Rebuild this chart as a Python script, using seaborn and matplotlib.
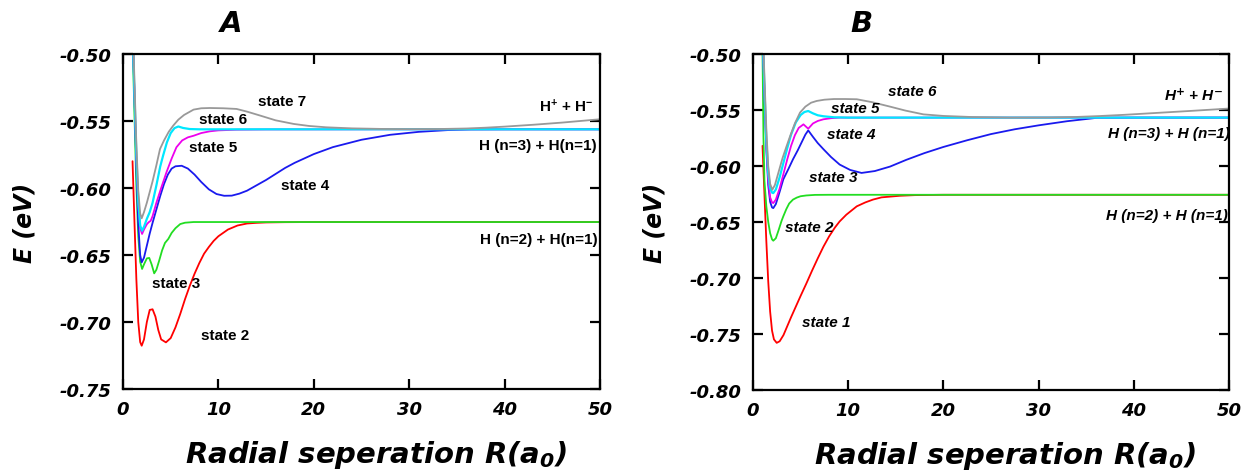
import matplotlib
matplotlib.use("Agg")
import matplotlib.pyplot as plt
import pandas as pd
import seaborn as sns

# ---------------- data ----------------
XTICKS = [0, 10, 20, 30, 40, 50]
YTICKS_A = [-0.75, -0.70, -0.65, -0.60, -0.55, -0.50]
YTICKS_B = [-0.80, -0.75, -0.70, -0.65, -0.60, -0.55, -0.50]

# Panel A
A_red_R = [1.0, 1.2, 1.4, 1.6, 1.8, 1.96, 2.2, 2.5, 2.8, 3.1, 3.4, 3.7, 4.0, 4.5, 5.0, 5.5, 6.0, 6.5, 7.0, 7.5, 8.0, 8.5, 9.0, 9.5, 10, 11, 12, 13, 14, 15, 17, 20, 25, 30, 40, 50]
A_red_E = [-0.580, -0.625, -0.668, -0.700, -0.715, -0.7177, -0.713, -0.700, -0.691, -0.6905, -0.696, -0.706, -0.713, -0.7152, -0.712, -0.704, -0.694, -0.683, -0.673, -0.664, -0.656, -0.649, -0.644, -0.6395, -0.636, -0.631, -0.628, -0.6265, -0.626, -0.6257, -0.6255, -0.6254, -0.6254, -0.6254, -0.6254, -0.6254]

A_green_R = [1.0, 1.2, 1.4, 1.6, 1.8, 2.0, 2.2, 2.5, 2.75, 3.0, 3.27, 3.5, 3.8, 4.1, 4.4, 4.75, 5.1, 5.5, 6.0, 6.5, 7.4, 9, 15, 30, 50]
A_green_E = [-0.49, -0.545, -0.598, -0.636, -0.655, -0.6604, -0.657, -0.6525, -0.6522, -0.657, -0.6637, -0.661, -0.654, -0.6465, -0.641, -0.638, -0.6335, -0.630, -0.6269, -0.6259, -0.6254, -0.6254, -0.6254, -0.6254, -0.6254]

A_blue_R = [1.0, 1.2, 1.4, 1.6, 1.8, 1.96, 2.2, 2.5, 2.8, 3.1, 3.5, 3.9, 4.3, 4.7, 5.1, 5.5, 6.15, 6.8, 7.5, 8.2, 9.0, 9.8, 10.6, 11.4, 12.2, 13.0, 14, 15, 16, 17, 18, 20, 22, 25, 28, 31, 34, 36.5, 40, 45, 50]
A_blue_E = [-0.48, -0.53, -0.585, -0.627, -0.650, -0.6555, -0.652, -0.643, -0.634, -0.626, -0.616, -0.606, -0.597, -0.590, -0.5855, -0.5838, -0.5834, -0.5855, -0.590, -0.5955, -0.601, -0.6045, -0.6058, -0.6057, -0.6042, -0.602, -0.598, -0.594, -0.5895, -0.585, -0.5812, -0.5747, -0.5695, -0.5640, -0.5603, -0.5581, -0.5568, -0.5563, -0.5562, -0.5562, -0.5562]

A_mag_R = [1.0, 1.2, 1.4, 1.6, 1.8, 2.0, 2.2, 2.5, 2.7, 2.9, 3.1, 3.5, 4.0, 4.57, 5.1, 5.6, 6.2, 6.8, 7.4, 8.2, 9.1, 10, 11.9, 15, 30, 50]
A_mag_E = [-0.48, -0.53, -0.578, -0.612, -0.630, -0.6343, -0.631, -0.627, -0.6255, -0.6245, -0.621, -0.611, -0.600, -0.588, -0.578, -0.5696, -0.5645, -0.5622, -0.561, -0.559, -0.5577, -0.557, -0.5565, -0.5563, -0.5562, -0.5562]

A_cyan_R = [1.0, 1.2, 1.4, 1.6, 1.8, 2.0, 2.2, 2.5, 2.8, 3.1, 3.5, 3.9, 4.2, 4.6, 5.0, 5.4, 5.8, 6.3, 7.0, 8, 10, 20, 50]
A_cyan_E = [-0.48, -0.53, -0.575, -0.610, -0.628, -0.6319, -0.629, -0.623, -0.618, -0.611, -0.598, -0.584, -0.5759, -0.566, -0.559, -0.5553, -0.5541, -0.5552, -0.5560, -0.5562, -0.5562, -0.5562, -0.5562]

A_gray_R = [1.0, 1.2, 1.4, 1.6, 1.8, 1.96, 2.2, 2.5, 2.8, 3.1, 3.5, 3.88, 4.3, 4.8, 5.26, 5.8, 6.4, 7.4, 8.2, 9.1, 10.5, 11.9, 13, 14.4, 16, 17.9, 19.5, 21.3, 24, 27, 30, 33, 36, 38, 40, 43, 46, 50]
A_gray_E = [-0.47, -0.52, -0.567, -0.602, -0.619, -0.6226, -0.618, -0.611, -0.603, -0.595, -0.583, -0.5709, -0.5645, -0.558, -0.5535, -0.549, -0.5455, -0.5415, -0.5405, -0.5403, -0.5405, -0.541, -0.5430, -0.546, -0.5495, -0.5522, -0.5537, -0.5547, -0.5555, -0.5559, -0.5561, -0.5560, -0.5556, -0.5550, -0.5542, -0.5528, -0.5512, -0.5487]

# Panel B
B_red_R = [1.0, 1.2, 1.4, 1.6, 1.8, 2.0, 2.2, 2.49, 2.8, 3.2, 3.6, 4.0, 4.5, 5.0, 5.6, 6.2, 6.8, 7.4, 8.0, 8.6, 9.1, 9.8, 10.9, 11.8, 12.6, 13.5, 15.4, 17, 20, 30, 50]
B_red_E = [-0.582, -0.625, -0.667, -0.703, -0.730, -0.747, -0.7548, -0.7579, -0.7565, -0.751, -0.743, -0.735, -0.7255, -0.716, -0.705, -0.6935, -0.6825, -0.672, -0.6628, -0.655, -0.6495, -0.6435, -0.636, -0.6325, -0.630, -0.628, -0.6266, -0.626, -0.6257, -0.6257, -0.6257]

B_green_R = [1.0, 1.1, 1.2, 1.4, 1.6, 1.8, 2.0, 2.13, 2.4, 2.7, 3.0, 3.18, 3.5, 3.8, 4.2, 4.6, 5.0, 5.6, 6.5, 8, 15, 50]
B_green_E = [-0.50, -0.575, -0.613, -0.636, -0.650, -0.660, -0.6655, -0.6667, -0.6645, -0.657, -0.649, -0.645, -0.6385, -0.6335, -0.630, -0.6282, -0.627, -0.6263, -0.6258, -0.6257, -0.6257, -0.6257]

B_blue_R = [1.0, 1.2, 1.4, 1.6, 1.8, 2.0, 2.13, 2.4, 2.8, 3.18, 3.7, 4.2, 4.7, 5.1, 5.5, 5.8, 6.3, 6.8, 7.4, 8.2, 9.1, 10.2, 11.4, 12.8, 14.4, 16.1, 18, 20, 22.5, 25, 27.5, 30, 33, 36.1, 40, 45, 50]
B_blue_E = [-0.48, -0.535, -0.585, -0.617, -0.632, -0.637, -0.6376, -0.634, -0.623, -0.612, -0.603, -0.594, -0.586, -0.579, -0.572, -0.5682, -0.574, -0.5795, -0.585, -0.592, -0.5987, -0.6035, -0.6062, -0.6045, -0.6005, -0.5945, -0.5885, -0.5830, -0.5770, -0.5715, -0.5672, -0.5637, -0.5600, -0.5570, -0.5568, -0.5568, -0.5568]

B_mag_R = [1.0, 1.2, 1.4, 1.6, 1.8, 2.0, 2.13, 2.4, 2.8, 3.2, 3.6, 4.0, 4.4, 4.8, 5.3, 5.8, 6.3, 6.8, 7.4, 8.2, 9.1, 12, 50]
B_mag_E = [-0.48, -0.533, -0.582, -0.612, -0.628, -0.6325, -0.6331, -0.630, -0.620, -0.607, -0.594, -0.582, -0.5725, -0.566, -0.5628, -0.5667, -0.5620, -0.5598, -0.5583, -0.5573, -0.5568, -0.5568, -0.5568]

B_cyan_R = [1.0, 1.2, 1.4, 1.6, 1.8, 2.0, 2.13, 2.4, 2.8, 3.2, 3.6, 4.0, 4.5, 5.0, 5.4, 5.8, 6.3, 6.8, 7.4, 8.5, 10, 50]
B_cyan_E = [-0.48, -0.53, -0.577, -0.606, -0.620, -0.6238, -0.6242, -0.621, -0.610, -0.597, -0.584, -0.572, -0.561, -0.5545, -0.5518, -0.5509, -0.5530, -0.5547, -0.5556, -0.5565, -0.5568, -0.5568]

B_gray_R = [1.0, 1.2, 1.4, 1.6, 1.8, 2.03, 2.3, 2.7, 3.1, 3.5, 3.9, 4.4, 4.94, 5.5, 6.1, 6.7, 7.5, 8.5, 9.7, 10.9, 12.5, 14.4, 16, 17.9, 20, 23.1, 27, 31, 34, 36.4, 39, 42, 46, 50]
B_gray_E = [-0.47, -0.52, -0.567, -0.600, -0.616, -0.6212, -0.617, -0.605, -0.593, -0.583, -0.5733, -0.562, -0.5523, -0.5470, -0.5435, -0.5419, -0.5408, -0.5402, -0.5402, -0.5404, -0.5430, -0.5470, -0.5505, -0.5539, -0.5553, -0.5563, -0.5568, -0.5567, -0.5562, -0.5554, -0.5543, -0.5528, -0.5508, -0.5487]

COLORS = ["#ff0000", "#22dd22", "#1a1aee", "#ee00ee", "#00e8ff", "#999999"]
WIDTHS = [1.3, 1.3, 1.3, 1.3, 1.6, 1.3]

CURVES_A = [(A_red_R, A_red_E), (A_green_R, A_green_E), (A_blue_R, A_blue_E),
            (A_mag_R, A_mag_E), (A_cyan_R, A_cyan_E), (A_gray_R, A_gray_E)]
CURVES_B = [(B_red_R, B_red_E), (B_green_R, B_green_E), (B_blue_R, B_blue_E),
            (B_mag_R, B_mag_E), (B_cyan_R, B_cyan_E), (B_gray_R, B_gray_E)]

LABELS_A = [("state 7", 16.7, -0.535), ("state 6", 10.5, -0.5485), ("state 5", 9.4, -0.5695),
            ("state 4", 19.1, -0.5977), ("state 3", 5.6, -0.671), ("state 2", 10.7, -0.7097)]
LABELS_B = [("state 6", 16.7, -0.5332), ("state 5", 10.7, -0.5478), ("state 4", 10.3, -0.5711),
            ("state 3", 8.4, -0.6095), ("state 2", 5.9, -0.6544), ("state 1", 7.7, -0.7397)]
ASYM_A = [(r"H$^{\mathsf{+}}$ + H$^{\mathsf{-}}$", 49.3, -0.5388),
          ("H (n=3) + H(n=1)", 49.6, -0.5679),
          ("H (n=2) + H(n=1)", 49.8, -0.638)]
ASYM_B = [(r"H$^{\mathit{+}}$ + H$^{\mathit{-}}$", 49.3, -0.5359),
          ("H (n=3) + H (n=1)", 50.1, -0.5709),
          ("H (n=2) + H (n=1)", 49.9, -0.6436)]

# ---------------- style ----------------
sns.set_style("ticks")
plt.rcParams["font.family"] = ["DejaVu Sans"]
plt.rcParams["text.color"] = "black"
plt.rcParams["axes.labelcolor"] = "black"
plt.rcParams["xtick.color"] = "black"
plt.rcParams["ytick.color"] = "black"
plt.rcParams["axes.unicode_minus"] = False
plt.rcParams["mathtext.fontset"] = "custom"
plt.rcParams["mathtext.rm"] = "DejaVu Sans:bold:italic"
plt.rcParams["mathtext.sf"] = "Liberation Sans:bold"
plt.rcParams["mathtext.it"] = "Liberation Sans:bold:italic"
plt.rcParams["mathtext.bf"] = "DejaVu Sans:bold"

fig = plt.figure(figsize=(12.45, 4.77), dpi=100)
axA = fig.add_axes([123 / 1245, 87 / 477, 477 / 1245, 335 / 477])
axB = fig.add_axes([753 / 1245, 86 / 477, 476 / 1245, 336 / 477])


def draw(ax, curves, yticks, ylim, labels, asym, italic, title, title_x):
    for (r, e), c, w in zip(curves, COLORS, WIDTHS):
        df = pd.DataFrame({"R": r, "E": e})
        sns.lineplot(data=df, x="R", y="E", ax=ax, color=c, lw=w,
                     estimator=None, sort=False, legend=False)
    ax.set_xlim(0, 50)
    ax.set_ylim(*ylim)
    ax.set_xticks(XTICKS)
    ax.set_xticklabels([str(v) for v in XTICKS], fontsize=13, fontweight="bold", fontstyle="italic")
    ax.set_yticks(yticks)
    ax.set_yticklabels([f"{v:.2f}" for v in yticks], fontsize=13, fontweight="bold", fontstyle="italic")
    ax.tick_params(direction="in", length=7, width=1.6, top=True, right=True, pad=8, colors="black")
    for s in ax.spines.values():
        s.set_linewidth(1.6)
        s.set_color("black")
        s.set_visible(True)
    ax.set_xlabel(r"Radial seperation R(a$_0$)", fontsize=21, fontweight="bold",
                  fontstyle="italic")
    ax.xaxis.set_label_coords(0.53, -0.145)
    ax.set_ylabel("E (eV)", fontsize=17, fontweight="bold", fontstyle="italic", labelpad=17)
    st = "italic" if italic else "normal"
    for s, x, y in labels:
        ax.text(x, y, s, ha="center", va="center", fontsize=11, fontweight="bold",
                fontstyle=st, family="Liberation Sans")
    for s, x, y in asym:
        ax.text(x, y, s, ha="right", va="center", fontsize=11, fontweight="bold",
                fontstyle=st, family="Liberation Sans")
    ax.text(title_x, 1.0925, title, transform=ax.transAxes, ha="center", va="center",
            fontsize=21, fontweight="bold", fontstyle="italic")


draw(axA, CURVES_A, YTICKS_A, (-0.75, -0.50), LABELS_A, ASYM_A, False, "A", 0.226)
draw(axB, CURVES_B, YTICKS_B, (-0.80, -0.50), LABELS_B, ASYM_B, True, "B", 0.229)

fig.savefig("out.png", dpi=100)
